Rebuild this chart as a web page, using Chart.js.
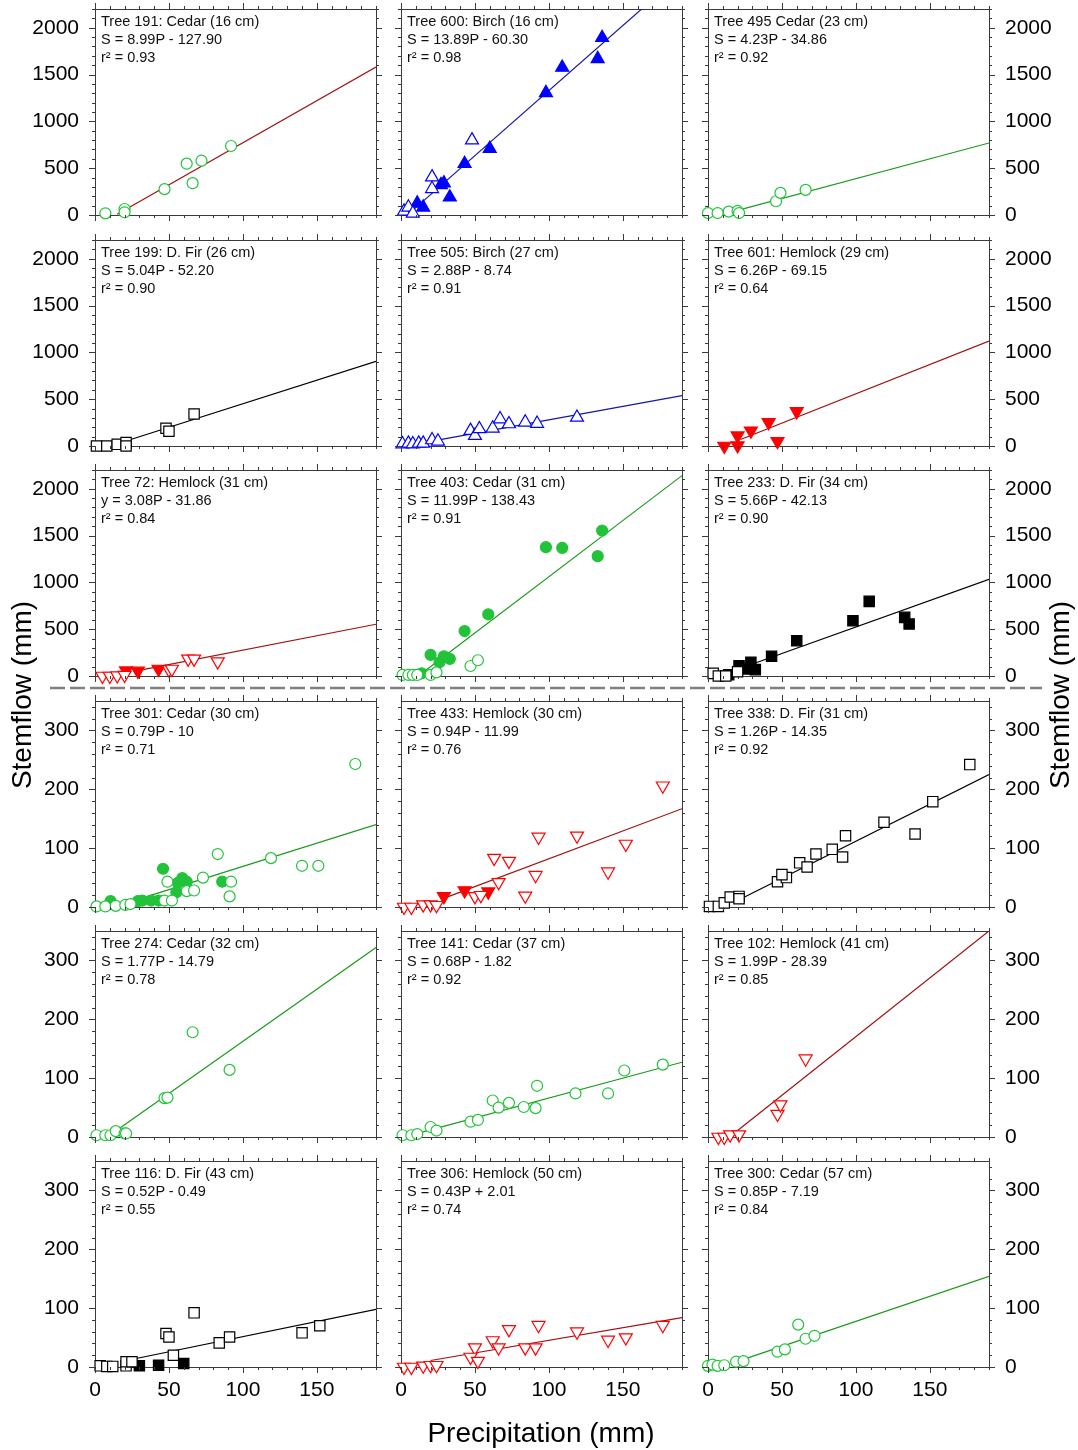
<!DOCTYPE html>
<html>
<head>
<meta charset="utf-8">
<script src="https://cdn.jsdelivr.net/npm/chart.js@4.4.1/dist/chart.umd.min.js"></script>
<style>
html, body { margin: 0; padding: 0; background: #fff; }
#fig { position: relative; width: 1078px; height: 1450px; overflow: hidden; font-family: "Liberation Sans", Arial, sans-serif; color: #000; }
#fig canvas { position: absolute; }
.note { position: absolute; font-size: 14.5px; line-height: 18px; color: #111; white-space: pre; z-index: 2; }
.title { position: absolute; font-size: 28px; white-space: nowrap; z-index: 2; }
.rot { transform: translate(-50%, -50%) rotate(-90deg); }
.flat { transform: translate(-50%, -50%); }
#sep { position: absolute; left: 0; top: 0; z-index: 1; }
</style>
</head>
<body>
<div id="fig">
  <svg id="sep" width="1078" height="1450"><line x1="50" y1="688" x2="1042" y2="688" stroke="#808080" stroke-width="2.5" stroke-dasharray="15 5"/></svg>
  <div class="title rot" style="left:22px; top:695px;">Stemflow (mm)</div>
  <div class="title rot" style="left:1060px; top:695px;">Stemflow (mm)</div>
  <div class="title flat" style="left:541px; top:1433px;">Precipitation (mm)</div>
</div>
<script>
// panels are listed row by row, left to right
var trees = [
  'Tree 191: Cedar (16 cm)', 'Tree 600: Birch (16 cm)', 'Tree 495 Cedar (23 cm)',
  'Tree 199: D. Fir (26 cm)', 'Tree 505: Birch (27 cm)', 'Tree 601: Hemlock (29 cm)',
  'Tree 72: Hemlock (31 cm)', 'Tree 403: Cedar (31 cm)', 'Tree 233: D. Fir (34 cm)',
  'Tree 301: Cedar (30 cm)', 'Tree 433: Hemlock (30 cm)', 'Tree 338: D. Fir (31 cm)',
  'Tree 274: Cedar (32 cm)', 'Tree 141: Cedar (37 cm)', 'Tree 102: Hemlock (41 cm)',
  'Tree 116: D. Fir (43 cm)', 'Tree 306: Hemlock (50 cm)', 'Tree 300: Cedar (57 cm)'
];
var equations = [
  'S = 8.99P - 127.90', 'S = 13.89P - 60.30', 'S = 4.23P - 34.86',
  'S = 5.04P - 52.20', 'S = 2.88P - 8.74', 'S = 6.26P - 69.15',
  'y = 3.08P - 31.86', 'S = 11.99P - 138.43', 'S = 5.66P - 42.13',
  'S = 0.79P - 10', 'S = 0.94P - 11.99', 'S = 1.26P - 14.35',
  'S = 1.77P - 14.79', 'S = 0.68P - 1.82', 'S = 1.99P - 28.39',
  'S = 0.52P - 0.49', 'S = 0.43P + 2.01', 'S = 0.85P - 7.19'
];
var r2 = ['0.93', '0.98', '0.92', '0.90', '0.91', '0.64', '0.84', '0.91', '0.90',
          '0.71', '0.76', '0.92', '0.78', '0.92', '0.85', '0.55', '0.74', '0.84'];
var species = ['Cedar', 'Birch', 'Cedar', 'D. Fir', 'Birch', 'Hemlock', 'Hemlock', 'Cedar', 'D. Fir',
               'Cedar', 'Hemlock', 'D. Fir', 'Cedar', 'Cedar', 'Hemlock', 'D. Fir', 'Hemlock', 'Cedar'];

// [precipitation, stemflow] pairs, open symbols
var openPts = [
  [[7,18],[20,64],[20,29],[47,276],[62,548],[66,340],[72,580],[92,737]],
  [[2,39],[5,82],[8,18],[21,405],[21,280],[48,800]],
  [[0,21],[6.5,21],[14,36],[20,43],[21,21],[46,147],[49,236],[66,268]],
  [[1,0],[8,0],[15,18],[21,36],[21,0],[48,189],[50,157],[67,342]],
  [[1,21],[5,28],[8,21],[12,28],[15,28],[21,64],[25,50],[47,164],[50,110],[53,182],[62,189],[67,288],[73,235],[84,253],[92,240],[119,305]],
  [],
  [[5,0],[10,0],[15,5],[20,10],[50,68],[52,75],[63,183],[67,183],[83,154]],
  [[1,11],[5,11],[8,11],[11,11],[20,11],[24,39],[47,107],[52,168]],
  [[3.5,28],[7,0],[12,0],[20,46]],
  [[1,1],[7,1],[14,2],[20.5,3.5],[24,5],[47,11],[52,11],[49,43],[62,27],[67,28],[73,50],[83,90],[91,18],[92,43],[119,83],[140,70],[151,70],[176,243]],
  [[2,0],[7,0],[15,4],[20,4],[24,3],[50,18],[54,20],[63,83],[73,78],[66,42],[84,19],[93,119],[91,54],[119,121],[140,60],[152,107],[177,206]],
  [[1,1],[7,1],[11,7],[15,17],[21,18],[21,14],[47,43],[53,50],[50,55],[62,75],[67,68],[73,90],[84,98],[91,85],[93,121],[119,144],[140,124],[152,179],[177,242]],
  [[1,3],[7,3],[10.5,3],[14,10],[20,6],[21,6],[47,66],[49,67],[66,178],[91,114]],
  [[1,3],[7,3],[11,5],[20,17],[24,11],[47,26],[52,29],[62,62],[66,50],[73,58],[83,51],[92,87],[91,49],[118,74],[140,74],[151,113],[177,123]],
  [[7,0],[11,0],[15,4],[21,4],[47,39],[49,55],[66,133]],
  [[3.5,2],[8,1],[12,1],[21,2],[21,9],[25,9],[48,57],[50,51],[53,20],[67,92],[84,41],[91,51],[140,58],[152,70]],
  [[2,0],[7,0],[15,2],[20,3],[24,3],[50,33],[47,17],[52,10],[62,45],[66,33],[73,64],[84,33],[91,33],[93,71],[119,60],[140,46],[152,50],[177,71]],
  [[0,2],[3,4],[6.5,2],[11,3],[19,9],[24,10],[47,26],[52,30],[61,72],[66,48],[72,53]]
];
// filled symbols
var filledPts = [
  [],
  [[11,125],[15,82],[27,322],[29,340],[33,190],[43,548],[60,709],[98,1305],[109,1575],[133,1668],[136,1893]],
  [],
  [],
  [],
  [[11,0],[20,5],[20,110],[29,163],[41,252],[47,50],[60,369]],
  [[21,57],[29,54],[43,75]],
  [[14,29],[20,225],[26,147],[29,211],[33,183],[43,480],[59,659],[98,1376],[109,1369],[133,1280],[136,1554]],
  [[14,14],[21,110],[29,146],[26,75],[32,68],[43,210],[60,377],[98,591],[109,797],[133,626],[136,555]],
  [[10.5,10],[29,10],[32,11],[38,11],[43,11],[46,65],[55,25],[56,41],[59,49],[62,43],[86,43]],
  [[29,18],[43,28],[59,26]],
  [],
  [],
  [],
  [],
  [[30,2],[43,3],[60,6]],
  [],
  []
];
// fitted line, read where it starts and where it meets the right edge
var fitStartX = [15, 5, 20, 22, 20, 22, 28, 17, 24, 29, 27, 20, 14, 8, 20, 27, 20, 17];
var fitStartY = [7, 9, 50, 59, 49, 69, 54, 65, 94, 13, 13, 11, 10, 4, 11, 14, 11, 7];
var fitEndX = 190;
var fitEndY = [1580, 2579, 769, 905, 539, 1120, 553, 2140, 1033, 140, 167, 225, 322, 127, 350, 98, 84, 154];

var xTicks = [0, 50, 100, 150];
var yTicksLarge = [0, 500, 1000, 1500, 2000];
var yTicksSmall = [0, 100, 200, 300];

// ---- layout and styles ----
var colLeft = [95, 401, 708];
var rowTop = [9, 240, 470, 701, 931, 1161];
var plotW = 281, plotH = 206;
var frame = '#3a3a3a';
var fontFam = '"Liberation Sans", Arial, sans-serif';

var markerStyle = {
  'Cedar':   {shape: 'circle',   color: '#22c33a', r: 5.5, rot: 0},
  'Birch':   {shape: 'triangle', color: '#0000ff', r: 7.5, rot: 0},
  'Hemlock': {shape: 'triangle', color: '#ff0000', r: 7.5, rot: 180},
  'D. Fir':  {shape: 'rect',     color: '#000000', r: 7.3, rot: 0}
};
var lineColorFor = {'Cedar': '#1a9a1a', 'Birch': '#1414a8', 'Hemlock': '#a01010', 'D. Fir': '#000000'};
var lineColors = species.map(function(s) { return lineColorFor[s]; });
lineColors[0] = '#a01010'; // tree 191 has its fit in dark red

Chart.defaults.font.family = fontFam;

//outward major/minor ticks on all four sides of a panel
var frameTicks = {
  id: 'frameTicks',
  afterDraw: function(chart) {
    var o = chart.options.plugins.frameTicks;
    var ctx = chart.ctx, a = chart.chartArea;
    var xs = chart.scales.x, ys = chart.scales.y;
    ctx.save();
    ctx.strokeStyle = frame;
    ctx.lineWidth = 1;
    ctx.beginPath();
    for (var v = 0; v <= xs.max + 0.001; v += 10) {
      var px = Math.round(xs.getPixelForValue(v)) + 0.5;
      var len = (v % 50 === 0) ? 6 : 3;
      ctx.moveTo(px, a.bottom); ctx.lineTo(px, a.bottom + len);
      ctx.moveTo(px, a.top); ctx.lineTo(px, a.top - len);
    }
    for (var w = 0; w <= ys.max + 0.001; w += o.minor) {
      var py = Math.round(ys.getPixelForValue(w)) + 0.5;
      var l2 = (w % o.major === 0) ? 6 : 3;
      ctx.moveTo(a.left, py); ctx.lineTo(a.left - l2, py);
      ctx.moveTo(a.right, py); ctx.lineTo(a.right + l2, py);
    }
    ctx.stroke();
    ctx.restore();
  }
};

function toXY(list) {
  return list.map(function(p) { return {x: p[0], y: p[1]}; });
}
function plainLabel(v) { return String(v); } // no thousands separator

var fig = document.getElementById('fig');

for (var i = 0; i < trees.length; i++) {
  var row = Math.floor(i / 3), col = i % 3;
  var big = row < 3;
  var L = col === 0 ? 85 : 12;
  var R = col === 2 ? 85 : 12;
  var T = 9;
  var B = row === 5 ? 40 : 14;

  var cv = document.createElement('canvas');
  cv.width = L + plotW + R;
  cv.height = T + plotH + B;
  cv.style.left = (colLeft[col] - L) + 'px';
  cv.style.top = (rowTop[row] - T) + 'px';
  fig.appendChild(cv);

  var note = document.createElement('div');
  note.className = 'note';
  note.style.left = (colLeft[col] + 6) + 'px';
  note.style.top = (rowTop[row] + 3) + 'px';
  note.textContent = trees[i] + '\n' + equations[i] + '\nr\u00b2 = ' + r2[i];
  fig.appendChild(note);

  var ms = markerStyle[species[i]];
  var yTicks = big ? yTicksLarge : yTicksSmall;
  var yMax = big ? 2200 : 350;

  (function(L, R, T, B, yTicks, showX, showYL, showYR) {
    function fixW(w) { return function(s) { s.width = w; s.paddingTop = 0; s.paddingBottom = 0; }; }
    function fixH(h) { return function(s) { s.height = h; s.paddingLeft = 0; s.paddingRight = 0; }; }
    var tickFont = {family: fontFam, size: 21};
    var noGrid = {drawOnChartArea: false, drawTicks: false};
    var bord = {display: true, color: frame, width: 1};

    new Chart(cv, {
      type: 'scatter',
      data: {
        datasets: [
          {
            data: toXY(openPts[i]),
            pointStyle: ms.shape, pointRadius: ms.r, pointRotation: ms.rot,
            pointBackgroundColor: '#ffffff', pointBorderColor: ms.color, pointBorderWidth: 1.2,
            clip: false
          },
          {
            data: toXY(filledPts[i]),
            pointStyle: ms.shape, pointRadius: ms.r, pointRotation: ms.rot,
            pointBackgroundColor: ms.color, pointBorderColor: ms.color, pointBorderWidth: 1.2,
            clip: false
          },
          {
            data: [{x: fitStartX[i], y: fitStartY[i]}, {x: fitEndX, y: fitEndY[i]}],
            showLine: true, fill: false, tension: 0,
            pointRadius: 0, borderColor: lineColors[i], borderWidth: 1.2
          }
        ]
      },
      options: {
        responsive: false,
        animation: false,
        events: [],
        layout: {padding: 0},
        plugins: {
          legend: {display: false},
          tooltip: {enabled: false},
          frameTicks: {minor: big ? 100 : 20, major: big ? 500 : 100}
        },
        scales: {
          x: {
            type: 'linear', position: 'bottom', min: 0, max: 190,
            afterBuildTicks: function(s) { s.ticks = xTicks.map(function(v) { return {value: v}; }); },
            afterFit: fixH(B),
            ticks: {display: showX, font: tickFont, color: '#000', padding: 11, maxRotation: 0, callback: plainLabel},
            grid: noGrid, border: bord
          },
          x2: {
            type: 'linear', position: 'top', min: 0, max: 190,
            afterFit: fixH(T),
            ticks: {display: false},
            grid: noGrid, border: bord
          },
          y: {
            type: 'linear', position: 'left', min: 0, max: yMax,
            afterBuildTicks: function(s) { s.ticks = yTicks.map(function(v) { return {value: v}; }); },
            afterFit: fixW(L),
            ticks: {display: showYL, font: tickFont, color: '#000', padding: 16, callback: plainLabel},
            grid: noGrid, border: bord
          },
          y2: {
            type: 'linear', position: 'right', min: 0, max: yMax,
            afterBuildTicks: function(s) { s.ticks = yTicks.map(function(v) { return {value: v}; }); },
            afterFit: fixW(R),
            ticks: {display: showYR, font: tickFont, color: '#000', padding: 16, callback: plainLabel},
            grid: noGrid, border: bord
          }
        }
      },
      plugins: [frameTicks]
    });
  })(L, R, T, B, yTicks, row === 5, col === 0, col === 2);
}
</script>
</body>
</html>
